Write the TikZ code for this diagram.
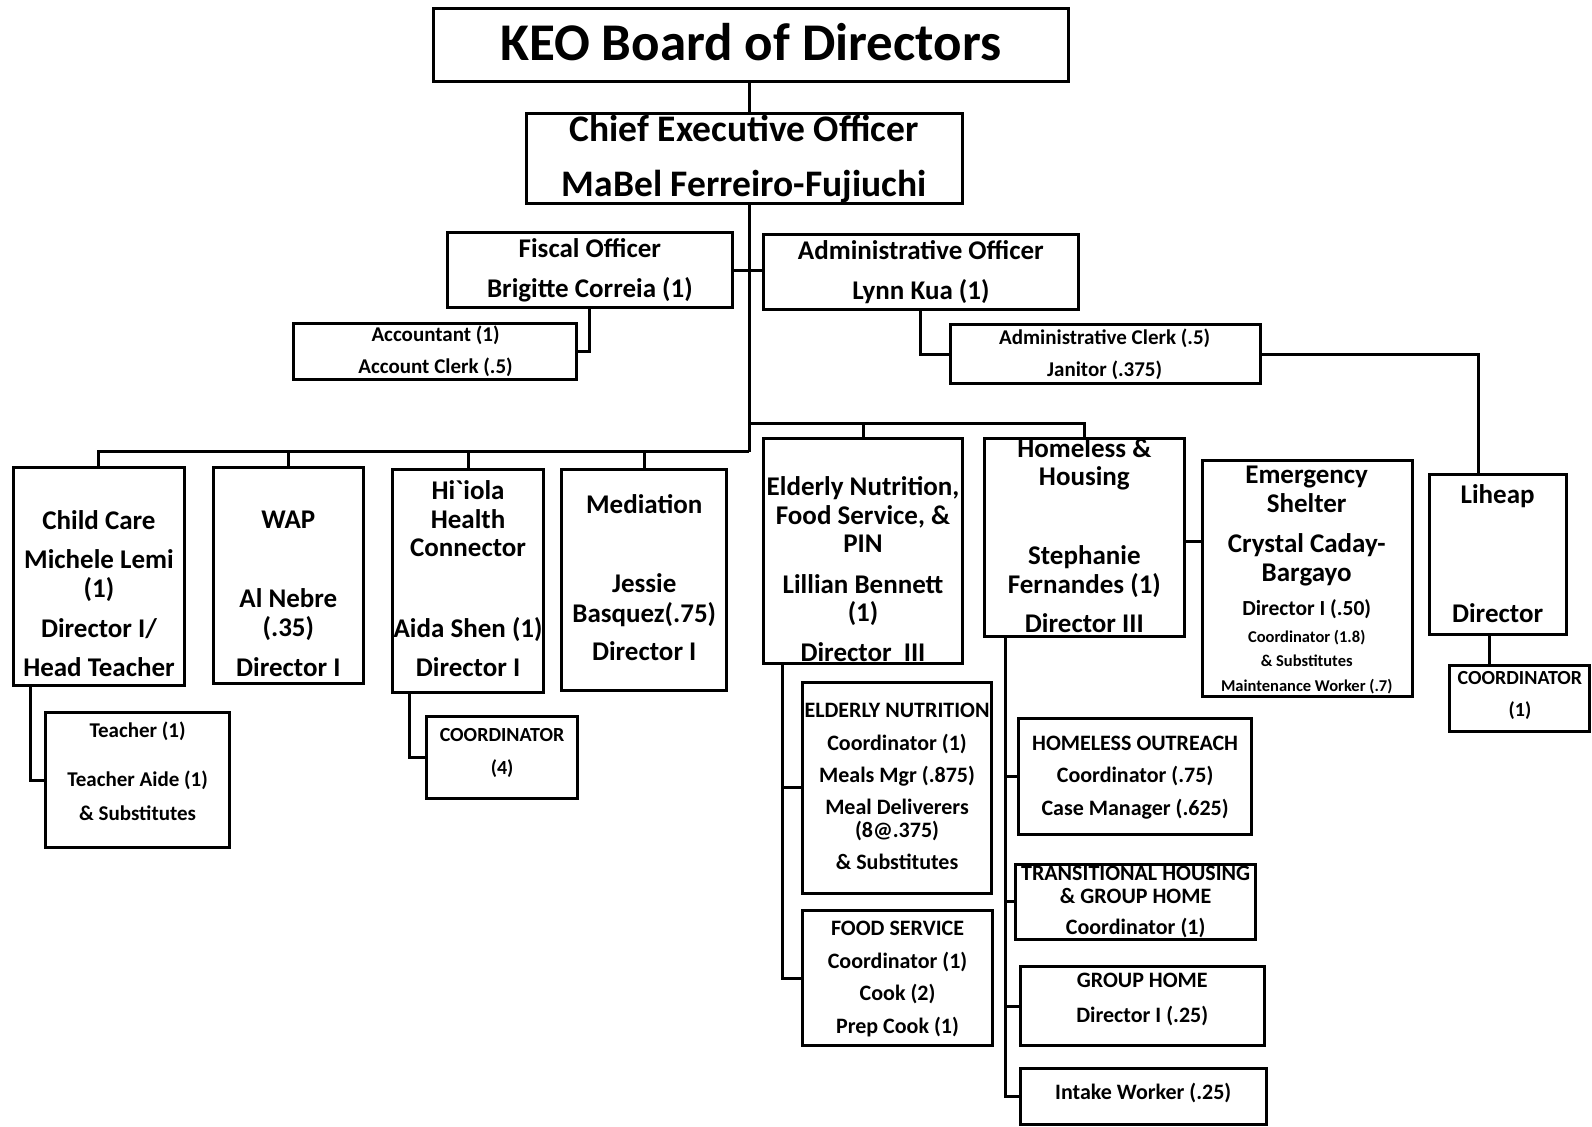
\documentclass[tikz,border=0pt]{standalone}
\usepackage{fontspec}
\setmainfont{Carlito}
\usetikzlibrary{fit,calc}
\tikzset{
 box/.style={draw, line width=3pt, inner sep=0pt, outer sep=0pt, rectangle},
 txt/.style={inner sep=0pt, anchor=base},
 conn/.style={line width=3pt},
}
\newcommand\fsz[1]{\fontsize{#1}{#1}\selectfont\bfseries}
\newcounter{txtc}
\newcommand\tx[4]{\stepcounter{txtc}\node[txt, font=\fsz{#4}] (t\arabic{txtc}) at (#1,{#2+0.31*#4}) {#3};}
\newcommand\bx[5]{\node[box, fit={(#2,#3)(#4,#5)}] (#1) {};}
\begin{document}
\begin{tikzpicture}[x=1.0153pt,y=-1.0153pt]
\useasboundingbox (0,0) rectangle (1568,1110);
% boxes
\bx{keo}{427}{8}{1052}{80}
\bx{ceo}{519}{112}{948}{200}
\bx{fiscal}{441}{229}{721}{303}
\bx{admin}{752}{231}{1062}{305}
\bx{acct}{289}{319}{568}{374}
\bx{clerk}{936}{320}{1241}{378}
\bx{child}{13}{460}{182}{675}
\bx{wap}{210}{460}{358}{673}
\bx{hiiola}{387}{462}{535}{682}
\bx{med}{553}{462}{716}{680}
\bx{elderly}{752}{432}{948}{653}
\bx{homeless}{970}{432}{1167}{627}
\bx{emerg}{1184}{454}{1391}{686}
\bx{liheap}{1408}{467}{1543}{625}
\bx{lcoord}{1428}{655}{1566}{720}
\bx{teacher}{45}{702}{226}{835}
\bx{hcoord}{420}{706}{569}{786}
\bx{en}{790}{672}{977}{880}
\bx{fs}{790}{897}{978}{1030}
\bx{ho}{1003}{708}{1233}{822}
\bx{th}{1000}{851}{1237}{925}
\bx{gh}{1005}{952}{1245}{1030}
\bx{iw}{1005}{1052}{1247}{1108}
% junctions
\coordinate (busR) at (738,417);
\coordinate (busL) at (738,445);
% connectors
\draw[conn] (keo.south -| 738,0) -- (ceo.north -| 738,0);
\draw[conn] (ceo.south -| busL) -- (busL);
\draw[conn] (fiscal.east) -- (fiscal.east -| admin.west);
\draw[conn] (fiscal.south) |- (acct.east);
\draw[conn] (admin.south) |- (clerk.west);
\draw[conn] (clerk.east) -| ($(liheap.north west)!0.356!(liheap.north east)$);
\draw[conn] (busL) -| (child.north);
\draw[conn] (wap.north) -- (wap.north |- busL);
\draw[conn] (hiiola.north) -- (hiiola.north |- busL);
\draw[conn] (med.north) -- (med.north |- busL);
\draw[conn] (busR) -| (homeless.north);
\draw[conn] (elderly.north) -- (elderly.north |- busR);
\draw[conn] (emerg.west |- 0,533) -- (homeless.east |- 0,533);
\draw[conn] ($(child.south west)+(17,0)$) |- (teacher.west);
\draw[conn] ($(hiiola.south west)+(16,0)$) |- (hcoord.west);
\draw[conn] ($(elderly.south west)+(19,0)$) |- (fs.west);
\draw[conn] (en.west) -- ++(-19,0);
\draw[conn] ($(homeless.south west)+(20,0)$) |- (iw.west);
\draw[conn] (ho.west) -- ++(-13,0);
\draw[conn] (th.west) -- ++(-10,0);
\draw[conn] (gh.west) -- ++(-15,0);
\draw[conn] ($(liheap.south west)+(59,0)$) -- ($(lcoord.north west)+(39,0)$);
% texts
\tx{739.5}{43}{KEO Board of Directors}{53}
\tx{733}{128}{Chief Executive Officer}{37.5}
\tx{733}{182}{MaBel Ferreiro-Fujiuchi}{37.5}
\tx{581}{245}{Fiscal Officer}{27}
\tx{581}{285}{Brigitte Correia (1)}{27}
\tx{907}{247}{Administrative Officer}{27}
\tx{907}{287}{Lynn Kua (1)}{27}
\tx{429}{330}{Accountant (1)}{21}
\tx{429}{361}{Account Clerk (.5)}{21}
\tx{1088}{333}{Administrative Clerk (.5)}{21}
\tx{1088}{364}{Janitor (.375)}{21}
\tx{97.5}{513}{Child Care}{27}
\tx{97.5}{552}{Michele Lemi}{27}
\tx{97.5}{580}{(1)}{27}
\tx{97.5}{620}{Director I/}{27}
\tx{97.5}{658}{Head Teacher}{27}
\tx{284}{512}{WAP}{27}
\tx{284}{590}{Al Nebre}{27}
\tx{284}{619}{(.35)}{27}
\tx{284}{658}{Director I}{27}
\tx{461}{484}{Hi\textasciigrave iola}{27}
\tx{461}{512}{Health}{27}
\tx{461}{540}{Connector}{27}
\tx{461}{620}{Aida Shen (1)}{27}
\tx{461}{658}{Director I}{27}
\tx{634.5}{497}{Mediation}{27}
\tx{634.5}{575}{Jessie}{27}
\tx{634.5}{605}{Basquez(.75)}{27}
\tx{634.5}{642}{Director I}{27}
\tx{850}{480}{Elderly Nutrition,}{27}
\tx{850}{508}{Food Service, \&}{27}
\tx{850}{536}{PIN}{27}
\tx{850}{576}{Lillian Bennett}{27}
\tx{850}{604}{(1)}{27}
\tx{850}{643}{Director\ \ III}{27}
\tx{1068}{442}{Homeless \&}{27}
\tx{1068}{470}{Housing}{27}
\tx{1068}{548}{Stephanie}{27}
\tx{1068}{576}{Fernandes (1)}{27}
\tx{1068}{615}{Director III}{27}
\tx{1287}{468}{Emergency}{27}
\tx{1287}{496}{Shelter}{27}
\tx{1287}{536}{Crystal Caday-}{27}
\tx{1287}{564}{Bargayo}{27}
\tx{1287}{600}{Director I (.50)}{21.5}
\tx{1287}{628}{Coordinator (1.8)}{16.5}
\tx{1287}{651}{\& Substitutes}{16.5}
\tx{1287}{676}{Maintenance Worker (.7)}{16.5}
\tx{1475}{488}{Liheap}{27}
\tx{1475}{605}{Director}{27}
\tx{1497}{668}{COORDINATOR}{20}
\tx{1497}{699}{(1)}{20}
\tx{135.5}{720}{Teacher (1)}{21}
\tx{135.5}{768}{Teacher Aide (1)}{21}
\tx{135.5}{802}{\& Substitutes}{21}
\tx{494.5}{724}{COORDINATOR}{20}
\tx{494.5}{757}{(4)}{20}
\tx{883.5}{700}{ELDERLY NUTRITION}{22}
\tx{883.5}{732}{Coordinator (1)}{22}
\tx{883.5}{764}{Meals Mgr (.875)}{22}
\tx{883.5}{795}{Meal Deliverers}{22}
\tx{883.5}{818}{(8@.375)}{22}
\tx{883.5}{850}{\& Substitutes}{22}
\tx{884}{915}{FOOD SERVICE}{22}
\tx{884}{947}{Coordinator (1)}{22}
\tx{884}{979}{Cook (2)}{22}
\tx{884}{1011}{Prep Cook (1)}{22}
\tx{1118}{732}{HOMELESS OUTREACH}{22}
\tx{1118}{764}{Coordinator (.75)}{22}
\tx{1118}{796}{Case Manager (.625)}{22}
\tx{1118.5}{860}{TRANSITIONAL HOUSING}{22}
\tx{1118.5}{883}{\& GROUP HOME}{22}
\tx{1118.5}{914}{Coordinator (1)}{22}
\tx{1125}{966}{GROUP HOME}{22}
\tx{1125}{1000}{Director I (.25)}{22}
\tx{1126}{1076}{Intake Worker (.25)}{22}
\end{tikzpicture}
\end{document}
